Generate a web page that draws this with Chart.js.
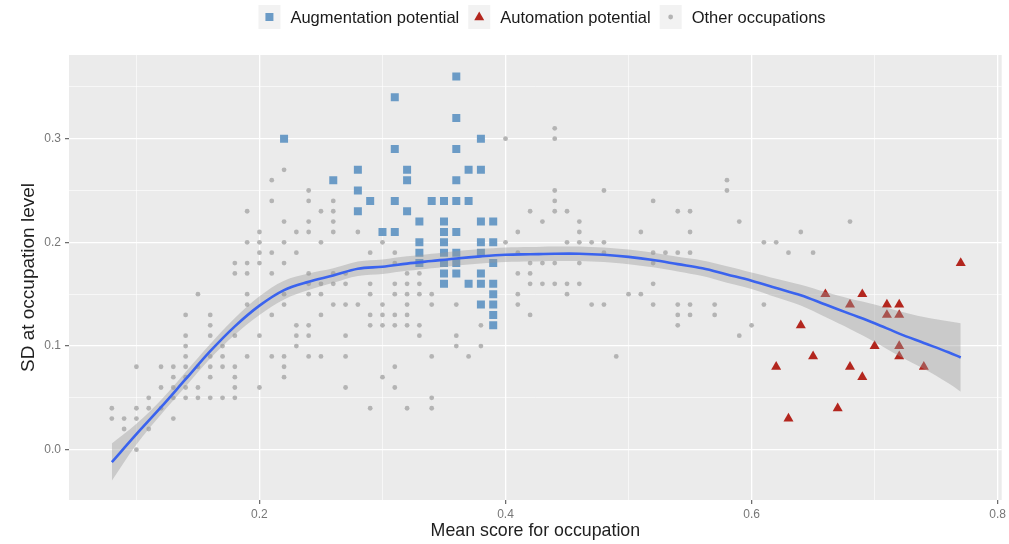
<!DOCTYPE html>
<html>
<head>
<meta charset="utf-8">
<script src="https://cdn.jsdelivr.net/npm/chart.js@4/dist/chart.umd.min.js"></script>
<style>
  html, body { margin: 0; padding: 0; background: #ffffff; }
  #wrap { width: 1009px; height: 544px; }
</style>
</head>
<body>
<div id="wrap"><canvas id="c" width="1009" height="544"></canvas></div>
<script>
// ---------------- data ----------------
const seriesNames = ['Augmentation potential', 'Automation potential', 'Other occupations'];

const augmentationPoints = [
  [0.22,0.30],[0.26,0.26],[0.28,0.27],[0.28,0.25],[0.28,0.23],[0.29,0.24],[0.30,0.21],
  [0.31,0.34],[0.31,0.29],[0.31,0.24],[0.31,0.21],[0.32,0.27],[0.32,0.26],[0.32,0.23],
  [0.33,0.22],[0.33,0.20],[0.33,0.19],[0.33,0.18],[0.34,0.24],
  [0.35,0.24],[0.35,0.22],[0.35,0.21],[0.35,0.20],[0.35,0.19],[0.35,0.18],[0.35,0.17],[0.35,0.16],
  [0.36,0.36],[0.36,0.32],[0.36,0.29],[0.36,0.26],[0.36,0.24],[0.36,0.21],[0.36,0.19],[0.36,0.18],[0.36,0.17],
  [0.37,0.27],[0.37,0.24],[0.37,0.16],
  [0.38,0.30],[0.38,0.27],[0.38,0.22],[0.38,0.20],[0.38,0.19],[0.38,0.17],[0.38,0.16],[0.38,0.14],
  [0.39,0.22],[0.39,0.20],[0.39,0.18],[0.39,0.16],[0.39,0.15],[0.39,0.14],[0.39,0.13],[0.39,0.12]
];

const automationPoints = [
  [0.62,0.08],[0.63,0.03],[0.64,0.12],[0.65,0.09],[0.66,0.15],[0.67,0.04],
  [0.68,0.14],[0.68,0.08],[0.69,0.15],[0.69,0.07],[0.70,0.10],[0.71,0.14],[0.71,0.13],
  [0.72,0.14],[0.72,0.13],[0.72,0.10],[0.72,0.09],[0.74,0.08],[0.77,0.18]
];

const otherPoints = [
  [0.08,0.04],[0.08,0.03],
  [0.09,0.03],[0.09,0.02],
  [0.10,0.08],[0.10,0.04],[0.10,0.03],[0.10,0.00],
  [0.11,0.05],[0.11,0.04],[0.11,0.02],
  [0.12,0.08],[0.12,0.06],[0.12,0.04],
  [0.13,0.08],[0.13,0.07],[0.13,0.06],[0.13,0.05],[0.13,0.03],
  [0.14,0.13],[0.14,0.11],[0.14,0.10],[0.14,0.09],[0.14,0.08],[0.14,0.07],[0.14,0.06],[0.14,0.05],
  [0.15,0.15],[0.15,0.08],[0.15,0.06],[0.15,0.05],
  [0.16,0.13],[0.16,0.12],[0.16,0.11],[0.16,0.09],[0.16,0.08],[0.16,0.07],[0.16,0.05],
  [0.17,0.10],[0.17,0.09],[0.17,0.08],[0.17,0.05],
  [0.18,0.18],[0.18,0.17],[0.18,0.11],[0.18,0.08],[0.18,0.07],[0.18,0.06],[0.18,0.05],
  [0.19,0.23],[0.19,0.20],[0.19,0.18],[0.19,0.17],[0.19,0.15],[0.19,0.14],[0.19,0.09],
  [0.20,0.21],[0.20,0.20],[0.20,0.19],[0.20,0.18],[0.20,0.11],[0.20,0.06],
  [0.21,0.26],[0.21,0.24],[0.21,0.19],[0.21,0.17],[0.21,0.13],[0.21,0.09],
  [0.22,0.27],[0.22,0.22],[0.22,0.20],[0.22,0.18],[0.22,0.15],[0.22,0.14],[0.22,0.09],[0.22,0.08],[0.22,0.07],
  [0.23,0.21],[0.23,0.19],[0.23,0.12],[0.23,0.11],[0.23,0.10],
  [0.24,0.25],[0.24,0.24],[0.24,0.22],[0.24,0.21],[0.24,0.17],[0.24,0.16],[0.24,0.15],[0.24,0.12],[0.24,0.11],[0.24,0.09],
  [0.25,0.23],[0.25,0.20],[0.25,0.16],[0.25,0.15],[0.25,0.13],[0.25,0.09],
  [0.26,0.24],[0.26,0.23],[0.26,0.22],[0.26,0.21],[0.26,0.17],[0.26,0.16],[0.26,0.14],
  [0.27,0.17],[0.27,0.16],[0.27,0.14],[0.27,0.11],[0.27,0.09],[0.27,0.06],
  [0.28,0.21],[0.28,0.14],
  [0.29,0.19],[0.29,0.16],[0.29,0.15],[0.29,0.13],[0.29,0.12],[0.29,0.04],
  [0.30,0.20],[0.30,0.14],[0.30,0.13],[0.30,0.12],[0.30,0.07],
  [0.31,0.19],[0.31,0.18],[0.31,0.16],[0.31,0.15],[0.31,0.13],[0.31,0.12],[0.31,0.08],[0.31,0.06],
  [0.32,0.17],[0.32,0.16],[0.32,0.15],[0.32,0.14],[0.32,0.13],[0.32,0.12],[0.32,0.04],
  [0.33,0.17],[0.33,0.16],[0.33,0.15],[0.33,0.12],[0.33,0.11],
  [0.34,0.15],[0.34,0.14],[0.34,0.09],[0.34,0.05],[0.34,0.04],
  [0.36,0.14],[0.36,0.11],[0.36,0.10],
  [0.37,0.09],
  [0.38,0.12],[0.38,0.10],
  [0.40,0.30],[0.40,0.20],
  [0.41,0.21],[0.41,0.19],[0.41,0.17],[0.41,0.15],[0.41,0.14],
  [0.42,0.23],[0.42,0.18],[0.42,0.17],[0.42,0.16],[0.42,0.13],
  [0.43,0.22],[0.43,0.18],[0.43,0.16],
  [0.44,0.31],[0.44,0.30],[0.44,0.25],[0.44,0.24],[0.44,0.23],[0.44,0.18],[0.44,0.16],
  [0.45,0.23],[0.45,0.20],[0.45,0.16],[0.45,0.15],
  [0.46,0.22],[0.46,0.21],[0.46,0.20],[0.46,0.18],[0.46,0.16],
  [0.47,0.20],[0.47,0.14],
  [0.48,0.25],[0.48,0.20],[0.48,0.19],[0.48,0.14],
  [0.49,0.09],
  [0.50,0.15],
  [0.51,0.21],[0.51,0.15],
  [0.52,0.24],[0.52,0.19],[0.52,0.18],[0.52,0.16],[0.52,0.14],
  [0.53,0.19],
  [0.54,0.23],[0.54,0.19],[0.54,0.14],[0.54,0.13],[0.54,0.12],
  [0.55,0.23],[0.55,0.21],[0.55,0.19],[0.55,0.14],[0.55,0.13],
  [0.57,0.14],[0.57,0.13],
  [0.58,0.26],[0.58,0.25],
  [0.59,0.22],[0.59,0.11],
  [0.60,0.12],
  [0.61,0.20],[0.61,0.14],
  [0.62,0.20],[0.63,0.19],[0.64,0.21],[0.65,0.19],[0.68,0.22]
];

// loess smooth: x, fitted value, half-width of confidence band
const smoothX  = [0.08, 0.10, 0.12, 0.14, 0.16, 0.18, 0.20, 0.22, 0.24, 0.26, 0.28, 0.30, 0.32, 0.34, 0.36, 0.38, 0.40, 0.42, 0.44, 0.46, 0.48, 0.50, 0.52, 0.54, 0.56, 0.58, 0.60, 0.62, 0.64, 0.66, 0.68, 0.70, 0.72, 0.74, 0.76, 0.77];
const smoothY  = [-0.012, 0.015, 0.041, 0.068, 0.095, 0.119, 0.139, 0.154, 0.162, 0.168, 0.1745, 0.1765, 0.1795, 0.182, 0.1845, 0.1865, 0.188, 0.1885, 0.189, 0.189, 0.188, 0.186, 0.183, 0.179, 0.175, 0.169, 0.163, 0.156, 0.149, 0.140, 0.131, 0.122, 0.112, 0.103, 0.094, 0.089];
const smoothSE = [0.018, 0.010, 0.007, 0.007, 0.007, 0.008, 0.009, 0.009, 0.008, 0.007, 0.007, 0.007, 0.007, 0.007, 0.007, 0.007, 0.007, 0.007, 0.007, 0.007, 0.007, 0.007, 0.007, 0.007, 0.0075, 0.008, 0.008, 0.009, 0.010, 0.012, 0.0145, 0.018, 0.0215, 0.025, 0.030, 0.033];

const xMajorTicks = [0.2, 0.4, 0.6, 0.8];
const xMinorTicks = [0.1, 0.3, 0.5, 0.7];
const yMajorTicks = [0.0, 0.1, 0.2, 0.3];
const yMinorTicks = [0.05, 0.15, 0.25, 0.35];

const xTitle = 'Mean score for occupation';
const yTitle = 'SD at occupation level';

// ---------------- helpers ----------------
const toXY = arr => arr.map(p => ({x: p[0], y: p[1]}));
const isIn = (list, v) => list.some(t => Math.abs(t - v) < 1e-9);

const COLORS = {
  aug: '#6b9bc6',
  auto: '#b3261e',
  other: '#b4b4b4',
  smooth: '#3a63ee',
  ribbon: 'rgba(153,153,153,0.4)',
  panel: '#ebebeb',
  key: '#f2f2f2'
};
const FONT = "'Liberation Sans', Arial, Helvetica, sans-serif";
Chart.defaults.font.family = FONT;

const panelBg = {
  id: 'panelBg',
  beforeDraw(chart) {
    const a = chart.chartArea, ctx = chart.ctx;
    ctx.save();
    ctx.fillStyle = COLORS.panel;
    ctx.fillRect(a.left, a.top, a.right - a.left, a.bottom - a.top);
    ctx.restore();
  }
};

function drawMarker(ctx, shape, cx, cy, color) {
  ctx.fillStyle = color;
  ctx.beginPath();
  if (shape === 'rect') {
    ctx.rect(cx - 4, cy - 4, 8, 8);
  } else if (shape === 'triangle') {
    ctx.moveTo(cx, cy - 5.5);
    ctx.lineTo(cx + 5, cy + 3.2);
    ctx.lineTo(cx - 5, cy + 3.2);
    ctx.closePath();
  } else {
    ctx.arc(cx, cy, 2.4, 0, Math.PI * 2);
  }
  ctx.fill();
}

const ggLegend = {
  id: 'ggLegend',
  afterDraw(chart) {
    const ctx = chart.ctx;
    const entries = [
      {label: seriesNames[0], shape: 'rect', color: COLORS.aug},
      {label: seriesNames[1], shape: 'triangle', color: COLORS.auto},
      {label: seriesNames[2], shape: 'circle', color: COLORS.other}
    ];
    ctx.save();
    ctx.font = '16.5px ' + FONT;
    const boxW = 22, boxH = 24, gapText = 10, gapItem = 9, top = 5;
    const widths = entries.map(e => ctx.measureText(e.label).width);
    let total = 0;
    widths.forEach((w, i) => { total += boxW + gapText + w + (i ? gapItem : 0); });
    let x = 542 - total / 2;
    entries.forEach((e, i) => {
      ctx.fillStyle = COLORS.key;
      ctx.fillRect(x, top, boxW, boxH);
      drawMarker(ctx, e.shape, x + boxW / 2, top + boxH / 2, e.color);
      ctx.fillStyle = '#1a1a1a';
      ctx.textBaseline = 'middle';
      ctx.textAlign = 'left';
      ctx.fillText(e.label, x + boxW + gapText, top + boxH / 2 + 1);
      x += boxW + gapText + widths[i] + gapItem;
    });
    ctx.restore();
  }
};

const gridWidth = major => c => (c.tick && major(c.tick.value)) ? 1.3 : 0.6;

new Chart(document.getElementById('c'), {
  data: {
    datasets: [
      {
        type: 'line', label: 'smooth', data: smoothX.map((x, i) => ({x, y: smoothY[i]})),
        borderColor: COLORS.smooth, borderWidth: 2.6, pointRadius: 0, tension: 0.35,
        fill: false, order: 0
      },
      {
        type: 'line', label: 'upper', data: smoothX.map((x, i) => ({x, y: smoothY[i] + smoothSE[i]})),
        borderColor: 'transparent', borderWidth: 0, pointRadius: 0, tension: 0.35,
        backgroundColor: COLORS.ribbon, fill: '+1', order: 1
      },
      {
        type: 'line', label: 'lower', data: smoothX.map((x, i) => ({x, y: smoothY[i] - smoothSE[i]})),
        borderColor: 'transparent', borderWidth: 0, pointRadius: 0, tension: 0.35,
        fill: false, order: 1
      },
      {
        type: 'scatter', label: seriesNames[0], data: toXY(augmentationPoints),
        pointStyle: 'rect', pointRadius: 5.66, pointBorderWidth: 0, borderWidth: 0,
        backgroundColor: COLORS.aug, pointBackgroundColor: COLORS.aug, order: 5
      },
      {
        type: 'scatter', label: seriesNames[1], data: toXY(automationPoints),
        pointStyle: 'triangle', pointRadius: 5.8, pointBorderWidth: 0, borderWidth: 0,
        backgroundColor: COLORS.auto, pointBackgroundColor: COLORS.auto, order: 5
      },
      {
        type: 'scatter', label: seriesNames[2], data: toXY(otherPoints),
        pointStyle: 'circle', pointRadius: 2.4, pointBorderWidth: 0, borderWidth: 0,
        backgroundColor: COLORS.other, pointBackgroundColor: COLORS.other, order: 10
      }
    ]
  },
  options: {
    responsive: false,
    devicePixelRatio: 1,
    animation: false,
    events: [],
    layout: { padding: { left: 0, right: 4, top: 55, bottom: 0 } },
    plugins: { legend: { display: false }, tooltip: { enabled: false } },
    scales: {
      x: {
        type: 'linear', min: 0.0452, max: 0.8033,
        afterBuildTicks: ax => { ax.ticks = xMinorTicks.concat(xMajorTicks).sort((a, b) => a - b).map(v => ({value: v})); },
        afterFit: ax => { ax.height = 44; },
        border: { display: false },
        grid: {
          color: '#ffffff',
          lineWidth: gridWidth(v => isIn(xMajorTicks, v)),
          drawTicks: true, tickLength: 4,
          tickColor: c => (c.tick && isIn(xMajorTicks, c.tick.value)) ? '#666666' : 'rgba(0,0,0,0)',
          tickWidth: 1.2
        },
        ticks: {
          autoSkip: false, maxRotation: 0, padding: 3, color: '#777777',
          font: { size: 12 },
          callback: v => isIn(xMajorTicks, v) ? v.toFixed(1) : ''
        },
        title: { display: true, text: xTitle, color: '#1f1f1f', font: { size: 17.8 }, padding: { top: 0, bottom: 2 } }
      },
      y: {
        type: 'linear', min: -0.0485, max: 0.3807,
        afterBuildTicks: ax => { ax.ticks = yMinorTicks.concat(yMajorTicks).sort((a, b) => a - b).map(v => ({value: v})); },
        afterFit: ax => { ax.width = 69; },
        border: { display: false },
        grid: {
          color: '#ffffff',
          lineWidth: gridWidth(v => isIn(yMajorTicks, v)),
          drawTicks: true, tickLength: 4,
          tickColor: c => (c.tick && isIn(yMajorTicks, c.tick.value)) ? '#666666' : 'rgba(0,0,0,0)',
          tickWidth: 1.2
        },
        ticks: {
          autoSkip: false, padding: 4, color: '#777777',
          font: { size: 12 },
          callback: v => isIn(yMajorTicks, v) ? v.toFixed(1) : ''
        },
        title: { display: true, text: yTitle, color: '#1f1f1f', font: { size: 19 }, padding: { top: 17, bottom: 0 } }
      }
    }
  },
  plugins: [panelBg, ggLegend]
});
</script>
</body>
</html>
